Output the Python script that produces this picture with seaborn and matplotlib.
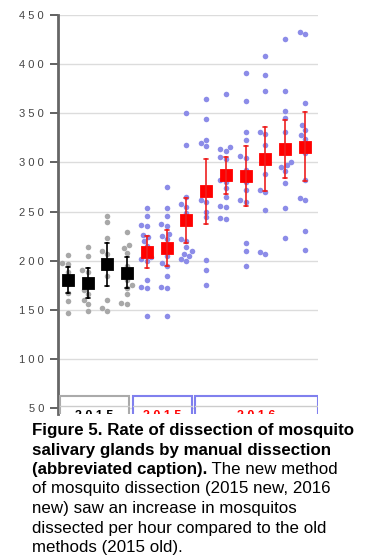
import pandas as pd
import matplotlib
matplotlib.use('Agg')
import matplotlib.pyplot as plt
from matplotlib.patches import Rectangle
import seaborn as sns

# mosquitos dissected per hour, one list per dissection session
old_2015 = [
    [206, 198, 197, 188, 182, 176, 167, 159, 147],
    [214, 205, 190, 188, 170, 166, 160, 156, 149],
    [245, 239, 223, 210, 207, 193, 184, 160, 152, 149],
    [229, 216, 213, 208, 195, 180, 175, 172, 166, 157, 156],
]
new_2015 = [
    [254, 245, 236, 235, 226, 224, 220, 215, 204, 202, 200, 180, 173, 172, 144],
    [275, 254, 245, 237, 235, 225, 227, 222, 205, 198, 195, 184, 173, 172, 144],
    [350, 318, 265, 258, 255, 248, 240, 222, 220, 214, 210, 207, 205, 202, 200],
]
new_2016 = [
    [364, 344, 323, 320, 317, 268, 262, 260, 250, 244, 201, 190, 175],
    [370, 316, 314, 312, 305, 303, 282, 280, 274, 265, 256, 255, 243, 242],
    [391, 362, 331, 323, 306, 304, 292, 280, 272, 262, 260, 218, 210, 195],
    [408, 389, 373, 331, 329, 318, 306, 300, 288, 272, 270, 252, 209, 207],
    [426, 373, 352, 345, 331, 312, 300, 297, 295, 291, 279, 254, 223],
    [433, 431, 360, 338, 333, 328, 324, 318, 310, 282, 264, 262, 230, 211],
]
y_ticks = [50, 100, 150, 200, 250, 300, 350, 400, 450]
period_names = ['2015', '2015', '2016']

caption_lines = [
    'Figure 5. Rate of dissection of mosquito',
    'salivary glands by manual dissection',
    '(abbreviated caption).',
    'of mosquito dissection (2015 new, 2016',
    'new) saw an increase in mosquitos',
    'dissected per hour compared to the old',
    'methods (2015 old).',
]
caption_tail = ' The new method'

# long-form table
rows = []
order = []
for tag, method, sessions in [('old15', 'old', old_2015), ('new15', 'new', new_2015), ('new16', 'new', new_2016)]:
    for i, vals in enumerate(sessions):
        name = f'{tag}-{i + 1}'
        order.append(name)
        for v in vals:
            rows.append({'session': name, 'method': method, 'rate': v})
df = pd.DataFrame(rows)
df_old = df[df['method'] == 'old']
df_new = df[df['method'] == 'new']

W, H = 365, 556
PX_PER_UNIT = 0.9825

sns.set_style('white')
plt.rcParams['font.family'] = ['Liberation Sans', 'DejaVu Sans']
fig = plt.figure(figsize=(W / 100, H / 100), dpi=100)
# chart is cut off by the caption at ~414 px
ax = fig.add_axes([58 / W, 1 - 414 / H, 260 / W, 399 / H])

gray_pt = '#a8a8a8'
blue_pt = '#8c8ce8'

sns.swarmplot(data=df_old, x='session', y='rate', order=order, color=gray_pt, size=4, ax=ax, zorder=2)
sns.swarmplot(data=df_new, x='session', y='rate', order=order, color=blue_pt, size=4, ax=ax, zorder=2)
sns.pointplot(data=df_old, x='session', y='rate', order=order, errorbar=('se', 2), color='black',
              marker='s', markersize=6.5, linestyle='none', capsize=0.2,
              err_kws={'linewidth': 1.2}, ax=ax, zorder=4)
sns.pointplot(data=df_new, x='session', y='rate', order=order, errorbar=('se', 2), color='#ff0000',
              marker='s', markersize=6.5, linestyle='none', capsize=0.2,
              err_kws={'linewidth': 1.2, 'color': '#ee2020'}, ax=ax, zorder=4)

ax.set_xlim(-0.5, 12.66)
ax.set_ylim(450 - 399 / PX_PER_UNIT, 450)
ax.set_yticks(y_ticks)
ax.set_yticklabels([' '.join(str(t)) for t in y_ticks], color='#444444', fontsize=8)
ax.set_xticks([])
ax.set_xlabel('')
ax.set_ylabel('')
ax.yaxis.grid(True, color='#dcdcdc', linewidth=1)
ax.set_axisbelow(True)
ax.tick_params(axis='y', length=6, width=1.3, color='#555555', pad=4, left=True)
for s in ['top', 'right', 'bottom']:
    ax.spines[s].set_visible(False)
ax.spines['left'].set_color('#666666')
ax.spines['left'].set_linewidth(2)

# period header boxes under the chart
box_top = 450 - (396 - 15) / PX_PER_UNIT
box_mid = 450 - (406 - 15) / PX_PER_UNIT
text_y = 450 - (410 - 15) / PX_PER_UNIT
boxes = [(-0.4, 3.1, '#aaaaaa', 'black'), (3.3, 6.28, '#8080ee', '#ff0000'), (6.43, 12.66, '#8080ee', '#ff0000')]
for (x0, x1, edge, tc), name in zip(boxes, period_names):
    ax.add_patch(Rectangle((x0, 0), x1 - x0, box_top, facecolor='white', edgecolor=edge,
                           linewidth=1.5, zorder=6))
    ax.plot([x0, x1], [box_mid, box_mid], color='#cccccc', linewidth=1, zorder=7)
    ax.text((x0 + x1) / 2, text_y, ' '.join(name), color=tc, fontsize=9, fontweight='bold',
            ha='center', va='top', zorder=8, clip_on=True)

# caption
baselines = [435, 454.5, 474, 493.5, 513, 532.5, 552]
x0 = 32 / W
renderer = fig.canvas.get_renderer()
for i, (txt, py) in enumerate(zip(caption_lines, baselines)):
    bold = i < 3
    t = fig.text(x0, 1 - py / H, txt, fontsize=12.2, fontweight='bold' if bold else 'normal',
                 ha='left', va='baseline', color='black')
    if i == 2:
        bb = t.get_window_extent(renderer=renderer)
        fig.text(bb.x1 / fig.bbox.width, 1 - py / H, caption_tail, fontsize=12.2,
                 ha='left', va='baseline', color='black')

fig.savefig('out.png', dpi=100)
